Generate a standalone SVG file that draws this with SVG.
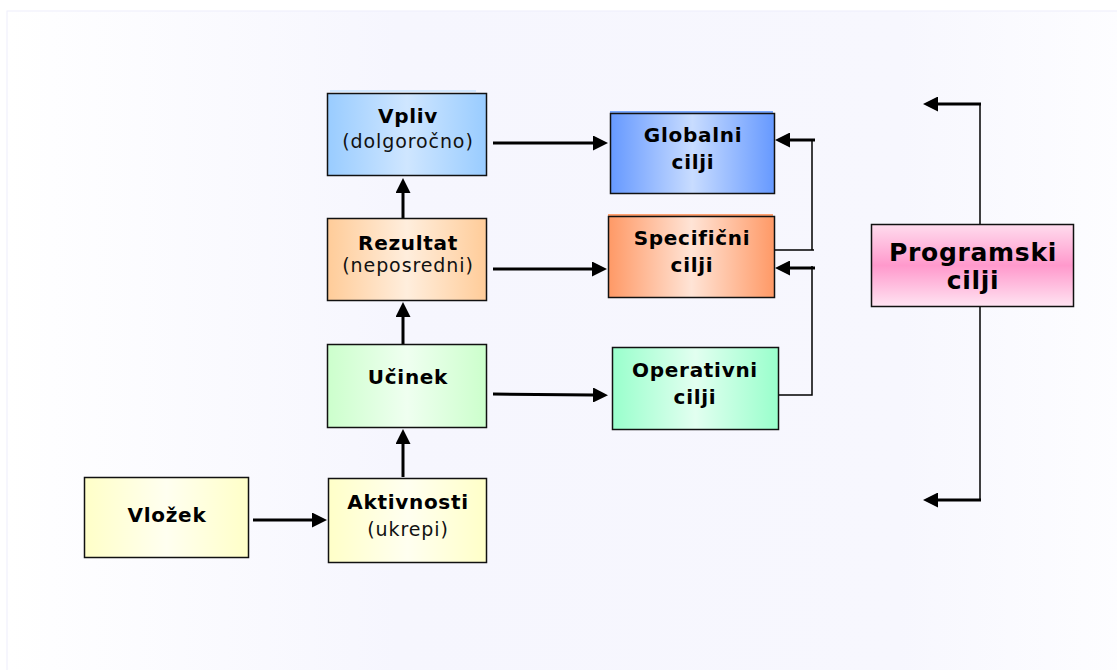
<svg xmlns="http://www.w3.org/2000/svg" width="1117" height="670" viewBox="0 0 1117 670">
  <defs>
    <linearGradient id="bg" x1="0" y1="0" x2="1" y2="0">
      <stop offset="0" stop-color="#ffffff"/>
      <stop offset="0.35" stop-color="#f6f6fe"/>
      <stop offset="0.8" stop-color="#f7f7fe"/>
      <stop offset="1" stop-color="#fdfdff"/>
    </linearGradient>
    <linearGradient id="gBlueL" x1="0" y1="0" x2="1" y2="0">
      <stop offset="0" stop-color="#99ccff"/>
      <stop offset="0.5" stop-color="#cfe6ff"/>
      <stop offset="1" stop-color="#99ccff"/>
    </linearGradient>
    <linearGradient id="gPeach" x1="0" y1="0" x2="1" y2="0">
      <stop offset="0" stop-color="#ffcc99"/>
      <stop offset="0.5" stop-color="#ffeedd"/>
      <stop offset="1" stop-color="#ffcc99"/>
    </linearGradient>
    <linearGradient id="gGreen" x1="0" y1="0" x2="1" y2="0">
      <stop offset="0" stop-color="#ccffcc"/>
      <stop offset="0.5" stop-color="#effff0"/>
      <stop offset="1" stop-color="#ccffcc"/>
    </linearGradient>
    <linearGradient id="gYellow" x1="0" y1="0" x2="1" y2="0">
      <stop offset="0" stop-color="#ffffc8"/>
      <stop offset="0.5" stop-color="#fffff0"/>
      <stop offset="1" stop-color="#ffffc8"/>
    </linearGradient>
    <linearGradient id="gBlue" x1="0" y1="0" x2="1" y2="0">
      <stop offset="0" stop-color="#6699ff"/>
      <stop offset="0.5" stop-color="#c8dcff"/>
      <stop offset="1" stop-color="#6699ff"/>
    </linearGradient>
    <linearGradient id="gOrange" x1="0" y1="0" x2="1" y2="0">
      <stop offset="0" stop-color="#ff9966"/>
      <stop offset="0.5" stop-color="#ffe4d6"/>
      <stop offset="1" stop-color="#ff9966"/>
    </linearGradient>
    <linearGradient id="gAqua" x1="0" y1="0" x2="1" y2="0">
      <stop offset="0" stop-color="#99ffcc"/>
      <stop offset="0.5" stop-color="#e2fff0"/>
      <stop offset="1" stop-color="#99ffcc"/>
    </linearGradient>
    <linearGradient id="gPink" x1="0" y1="0" x2="0" y2="1">
      <stop offset="0" stop-color="#ffdcee"/>
      <stop offset="0.5" stop-color="#ff99cc"/>
      <stop offset="1" stop-color="#ffe4f2"/>
    </linearGradient>
    <marker id="head" viewBox="0 0 5 5" refX="0" refY="2.5" markerWidth="5" markerHeight="5" orient="auto" markerUnits="strokeWidth">
      <path d="M0,0 L5,2.5 L0,5 z" fill="#000"/>
    </marker>
    <style>
      .box { stroke: #111; stroke-width: 1.5; }
      .b { font-family: "DejaVu Sans", Verdana, sans-serif; font-weight: bold; font-size: 20px; letter-spacing: 0.7px; fill: #000; text-anchor: middle; }
      .r { font-family: "DejaVu Sans", Verdana, sans-serif; font-size: 19px; letter-spacing: 0.9px; fill: #111; text-anchor: middle; }
      .big { font-size: 25px; }
      .arrow { fill: none; stroke: #000; stroke-width: 3; marker-end: url(#head); }
      .thin { fill: none; stroke: #000; stroke-width: 1.5; }
    </style>
  </defs>

  <!-- slide background -->
  <rect x="0" y="0" width="1117" height="670" fill="#ffffff"/>
  <rect x="7" y="11" width="1115" height="665" fill="url(#bg)" stroke="#eeeefb" stroke-width="1"/>

  <!-- connectors -->
  <g id="connectors">
    <path class="arrow" d="M493,143 H593"/>
    <path class="arrow" d="M493,269 H592"/>
    <path class="arrow" d="M493,394 L593,395"/>
    <path class="arrow" d="M253,520 H312"/>
    <path class="arrow" d="M403,477 V444"/>
    <path class="arrow" d="M403,344 V317"/>
    <path class="arrow" d="M403,218 V193"/>
    <!-- feedback from operational / specific levels -->
    <path class="thin" d="M775,250 H814 M812,250 V140"/>
    <path class="arrow" d="M815,140 H790"/>
    <path class="thin" d="M779,395 H812 V266"/>
    <path class="arrow" d="M815,268 H790"/>
    <!-- programme objectives bracket -->
    <path class="thin" d="M980,103 V501"/>
    <path class="arrow" d="M981,104 H938"/>
    <path class="arrow" d="M981,500 H938"/>
  </g>

  <g id="vpliv">
    <rect x="330" y="90" width="146" height="2" fill="#d2e8ff"/>
    <rect class="box" x="327.5" y="93.5" width="159" height="82" fill="url(#gBlueL)"/>
    <text class="b" x="408" y="123">Vpliv</text>
    <text class="r" x="408" y="148">(dolgoročno)</text>
  </g>

  <g id="rezultat">
    <rect class="box" x="327.5" y="218.5" width="159" height="82" fill="url(#gPeach)"/>
    <text class="b" x="408" y="250">Rezultat</text>
    <text class="r" x="408" y="272">(neposredni)</text>
  </g>

  <g id="ucinek">
    <rect class="box" x="327.5" y="344.5" width="159" height="83" fill="url(#gGreen)"/>
    <text class="b" x="408" y="384">Učinek</text>
  </g>

  <g id="aktivnosti">
    <rect class="box" x="328.5" y="478.5" width="158" height="84" fill="url(#gYellow)"/>
    <text class="b" x="408" y="509">Aktivnosti</text>
    <text class="r" x="408" y="536">(ukrepi)</text>
  </g>

  <g id="vlozek">
    <rect class="box" x="84.5" y="477.5" width="164" height="80" fill="url(#gYellow)"/>
    <text class="b" x="167" y="522">Vložek</text>
  </g>

  <g id="globalni">
    <rect x="610" y="111" width="163" height="2" fill="#7aa8ff"/>
    <rect class="box" x="610.5" y="113.5" width="164" height="80" fill="url(#gBlue)"/>
    <text class="b" x="693" y="142">Globalni</text>
    <text class="b" x="693" y="169">cilji</text>
  </g>

  <g id="specificni">
    <rect x="608" y="214" width="165" height="2" fill="#ffa070"/>
    <rect class="box" x="608.5" y="216.5" width="166" height="81" fill="url(#gOrange)"/>
    <text class="b" x="692" y="245">Specifični</text>
    <text class="b" x="692" y="272">cilji</text>
  </g>

  <g id="operativni">
    <rect class="box" x="612.5" y="347.5" width="166" height="82" fill="url(#gAqua)"/>
    <text class="b" x="695" y="377">Operativni</text>
    <text class="b" x="695" y="404">cilji</text>
  </g>

  <g id="programski">
    <rect class="box" x="871.5" y="224.5" width="202" height="82" fill="url(#gPink)"/>
    <text class="b big" x="973" y="261">Programski</text>
    <text class="b big" x="973" y="289">cilji</text>
  </g>
</svg>
